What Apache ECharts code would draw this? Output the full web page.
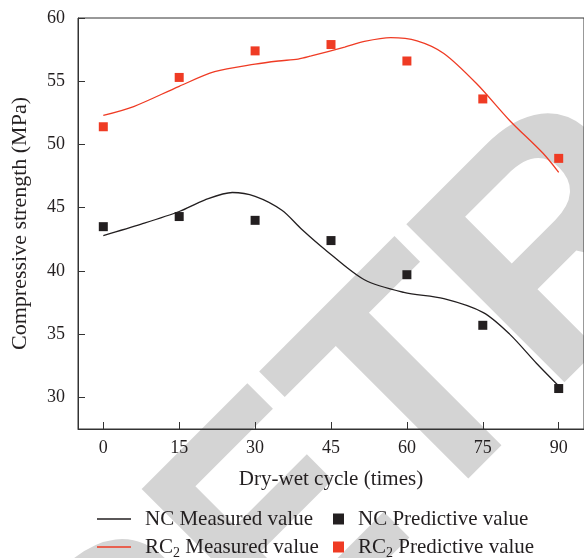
<!DOCTYPE html>
<html>
<head>
<meta charset="utf-8">
<script src="https://cdn.jsdelivr.net/npm/echarts@6.0.0/dist/echarts.min.js"></script>
<style>
html, body { margin: 0; padding: 0; background: #fff; }
#chart { width: 584px; height: 558px; }
</style>
</head>
<body>
<div id="chart"></div>
<script>
// dry-wet cycles where the predictive values sit
const cycles = [0, 15, 30, 45, 60, 75, 90];
const ncPredictive = [43.5, 44.3, 44.0, 42.4, 39.7, 35.7, 30.7];
const rc2Predictive = [51.4, 55.3, 57.4, 57.9, 56.6, 53.6, 48.9];

// measured curves
const ncCurveX = [0, 7.5, 15, 20, 25.5, 30, 35.3, 39.2, 43.8, 51.6, 59.4, 67.3, 75.1, 80.3, 85.6, 90];
const ncCurveY = [42.8, 43.7, 44.7, 45.6, 46.2, 45.9, 44.8, 43.3, 41.7, 39.3, 38.3, 37.8, 36.7, 35.0, 32.7, 30.9];
const rc2CurveX = [0, 6, 15, 22, 30, 34.6, 38.5, 41.1, 47.7, 51.6, 56.8, 62, 67.3, 73.8, 80.3, 86.9, 90];
const rc2CurveY = [52.3, 53.0, 54.6, 55.75, 56.35, 56.6, 56.75, 57.0, 57.7, 58.15, 58.45, 58.2, 57.2, 54.8, 51.9, 49.3, 47.8];

const xTicks = [0, 15, 30, 45, 60, 75, 90];
const yTicks = [30, 35, 40, 45, 50, 55, 60];

const seriesNames = ['NC Measured value', 'RC2 Measured value', 'NC Predictive value', 'RC2 Predictive value'];

// watermark
const wmLetters = ['R', 'E', 'T', 'R', 'A', 'C', 'T', 'E', 'D'];
const wmStart = [-495, -264, -83, 107, 342, 577, 812, 1010, 1227];
const wmScaleX = [1, 0.85, 1, 1, 1, 1, 1, 1, 1];

const BLACK = '#231f20';
const RED = '#ef3b24';
const FONT = 'Liberation Serif';

function zip(xs, ys) {
    return xs.map((x, i) => [x, ys[i]]);
}

// letters laid along a 45 degree baseline
const wmMid = 820;
const watermark = wmLetters.map((ch, i) => ({
    type: 'text',
    silent: true,
    z: -1,
    x: (Math.SQRT2 * wmStart[i] + wmMid) / 2,
    y: (wmMid - Math.SQRT2 * wmStart[i]) / 2,
    rotation: Math.PI / 4,
    scaleX: wmScaleX[i],
    style: {
        text: ch,
        fill: '#d4d4d4',
        font: 'bold 325px "Liberation Sans"',
        align: 'left',
        verticalAlign: 'middle'
    }
}));

const legendText = {
    fontFamily: FONT,
    fontSize: 21,
    color: '#231f20',
    lineHeight: 26,
    padding: [0, 0, 0, 9],
    rich: {
        sub: { fontFamily: FONT, fontSize: 14, lineHeight: 14, padding: [12, 0, 0, 0], color: '#231f20' }
    }
};
const subFormatter = (name) => name.replace('RC2', 'RC{sub|2}');

// one legend per entry, two columns by two rows
function legendItem(name, left, center, isLine) {
    return {
        data: [name],
        left: left,
        top: center - 13,
        padding: 0,
        icon: 'rect',
        itemWidth: isLine ? 34 : 11,
        itemHeight: isLine ? 1.4 : 11,
        formatter: subFormatter,
        textStyle: legendText
    };
}

const chart = echarts.init(document.getElementById('chart'));
chart.setOption({
    animation: false,
    backgroundColor: '#fff',
    graphic: watermark,
    grid: {
        left: 78,
        top: 18,
        right: -4,
        bottom: 129,
        show: true,
        borderColor: '#333',
        borderWidth: 1,
        backgroundColor: 'transparent'
    },
    legend: [
        legendItem(seriesNames[0], 97, 519, true),
        legendItem(seriesNames[1], 97, 547, true),
        legendItem(seriesNames[2], 333, 519, false),
        legendItem(seriesNames[3], 333, 547, false)
    ],
    xAxis: {
        type: 'value',
        min: -5,
        max: 95,
        name: 'Dry-wet cycle (times)',
        nameLocation: 'middle',
        nameGap: 40,
        nameTextStyle: { fontFamily: FONT, fontSize: 21, color: '#231f20' },
        axisLine: { show: true, onZero: false, lineStyle: { color: '#333', width: 1 } },
        axisTick: { show: true, inside: true, length: 7, customValues: xTicks, lineStyle: { color: '#333' } },
        axisLabel: { customValues: xTicks, margin: 10, fontFamily: FONT, fontSize: 18, color: '#231f20' },
        splitLine: { show: false }
    },
    yAxis: {
        type: 'value',
        min: 27.5,
        max: 60,
        name: 'Compressive strength (MPa)',
        nameLocation: 'middle',
        nameGap: 47,
        nameTextStyle: { fontFamily: FONT, fontSize: 22, color: '#231f20' },
        axisLine: { show: true, onZero: false, lineStyle: { color: '#333', width: 1 } },
        axisTick: { show: true, inside: true, length: 7, customValues: yTicks, lineStyle: { color: '#333' } },
        axisLabel: { customValues: yTicks, margin: 13, fontFamily: FONT, fontSize: 18, color: '#231f20' },
        splitLine: { show: false }
    },
    series: [
        {
            name: seriesNames[0],
            type: 'line',
            smooth: 0.3,
            symbol: 'none',
            color: BLACK,
            lineStyle: { color: BLACK, width: 1.3 },
            data: zip(ncCurveX, ncCurveY)
        },
        {
            name: seriesNames[1],
            type: 'line',
            smooth: 0.3,
            symbol: 'none',
            color: RED,
            lineStyle: { color: RED, width: 1.3 },
            data: zip(rc2CurveX, rc2CurveY)
        },
        {
            name: seriesNames[2],
            type: 'scatter',
            symbol: 'rect',
            symbolSize: 9,
            itemStyle: { color: BLACK, opacity: 1 },
            data: zip(cycles, ncPredictive)
        },
        {
            name: seriesNames[3],
            type: 'scatter',
            symbol: 'rect',
            symbolSize: 9,
            itemStyle: { color: RED, opacity: 1 },
            data: zip(cycles, rc2Predictive)
        }
    ]
});
</script>
</body>
</html>
